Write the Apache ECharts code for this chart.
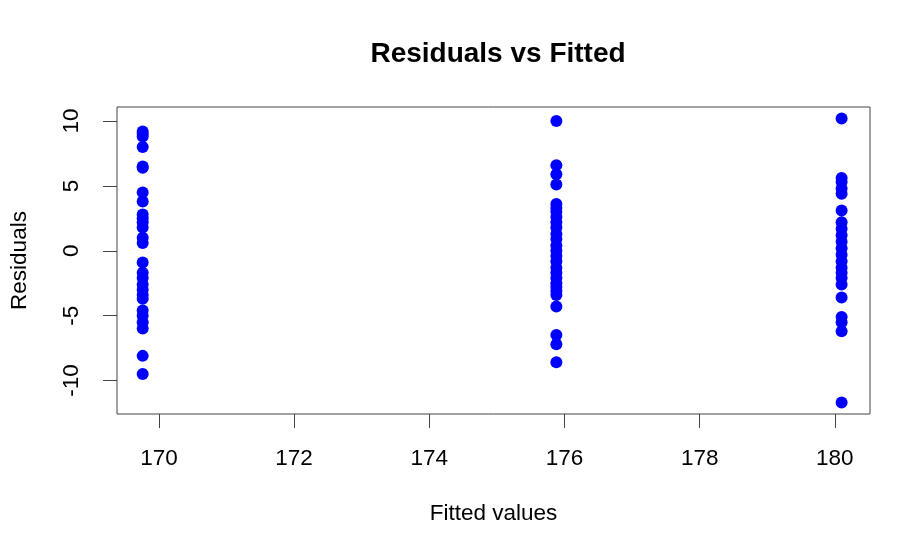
<!DOCTYPE html>
<html>
<head>
<meta charset="utf-8">
<script src="https://cdn.jsdelivr.net/npm/echarts@6/dist/echarts.min.js"></script>
<style>
  html, body { margin: 0; padding: 0; background: #fff; }
  #res { width: 900px; height: 540px; }
</style>
</head>
<body>
<div id="res"></div>
<script>
// fitted value of each group
const fittedA = 169.76;
const fittedB = 175.88;
const fittedC = 180.10;

// residuals
const residA = [9.2, 9.0, 8.8, 8.0, 6.5, 6.4, 4.5, 3.8, 2.8, 2.5, 2.2, 1.8, 1.0, 0.6, -0.9,
  -1.7, -2.1, -2.6, -3.0, -3.4, -3.7, -4.6, -5.0, -5.5, -6.0, -8.1, -9.5];
const residB = [10.0, 6.6, 5.9, 5.1, 3.6, 3.3, 3.0, 2.6, 2.2, 1.8, 1.3, 0.9, 0.4, 0.0, -0.4,
  -0.8, -1.3, -1.7, -2.1, -2.5, -2.8, -3.1, -3.4, -4.3, -6.5, -7.2, -8.6];
const residC = [10.2, 5.6, 5.3, 4.8, 4.4, 3.1, 2.2, 1.7, 1.2, 0.7, 0.2, -0.3, -0.8, -1.3,
  -1.7, -2.1, -2.6, -3.6, -5.1, -5.5, -6.2, -11.7];

const xTicks = [170, 172, 174, 176, 178, 180];
const yTicks = [-10, -5, 0, 5, 10];

function pairs(x, ys) {
  return ys.map(function (y) { return [x, y]; });
}
const points = pairs(fittedA, residA).concat(pairs(fittedB, residB), pairs(fittedC, residC));

let myChart = echarts.init(document.getElementById('res'));
const font = 'Liberation Sans, Arial, sans-serif';
let option = {
  animation: false,
  title: {
    text: 'Residuals vs Fitted',
    left: 493,
    textAlign: 'center',
    top: 35,
    textStyle: { fontFamily: font, fontSize: 28, fontWeight: 'bold', color: '#000' }
  },
  grid: {
    left: 117,
    right: 30,
    top: 107,
    bottom: 126,
    show: true,
    borderColor: '#444',
    borderWidth: 1
  },
  xAxis: {
    type: 'value',
    min: 169.38,
    max: 180.52,
    name: 'Fitted values',
    nameLocation: 'middle',
    nameGap: 88,
    nameTextStyle: { fontFamily: font, fontSize: 22.5, color: '#000' },
    axisLine: { show: false, onZero: false },
    axisTick: { show: true, customValues: xTicks, length: 14, lineStyle: { color: '#444' } },
    axisLabel: { customValues: xTicks, margin: 33, fontFamily: font, fontSize: 22.5, color: '#000' },
    splitLine: { show: false }
  },
  yAxis: {
    type: 'value',
    min: -12.58,
    max: 11.08,
    name: 'Residuals',
    nameLocation: 'middle',
    nameRotate: 90,
    nameGap: 86,
    nameTextStyle: { fontFamily: font, fontSize: 22.5, color: '#000' },
    axisLine: { show: false, onZero: false },
    axisTick: { show: true, customValues: yTicks, length: 14, lineStyle: { color: '#444' } },
    axisLabel: { customValues: yTicks, rotate: 90, margin: 34, fontFamily: font, fontSize: 22.5, color: '#000' },
    splitLine: { show: false }
  },
  series: [{
    type: 'scatter',
    data: points,
    symbol: 'circle',
    symbolSize: 12,
    itemStyle: { color: '#0000ff', opacity: 1 }
  }]
};
option && myChart.setOption(option);
</script>
</body>
</html>
